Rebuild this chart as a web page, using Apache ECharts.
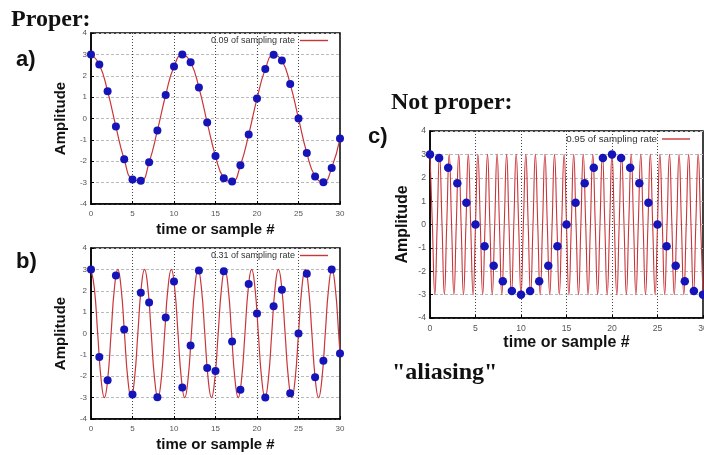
<!DOCTYPE html>
<html>
<head>
<meta charset="utf-8">
<script src="https://cdn.jsdelivr.net/npm/echarts@6/dist/echarts.min.js"></script>
<style>html,body{margin:0;padding:0;background:#fff}#chart{width:704px;height:455px}</style>
</head>
<body>
<div id="chart"></div>
<script>
// ---- data ----
const sampleN = [0,1,2,3,4,5,6,7,8,9,10,11,12,13,14,15,16,17,18,19,20,21,22,23,24,25,26,27,28,29,30];

// a) 0.09 of sampling rate: sampled points (also the curve, drawn smooth)
const samplesA = [3,2.53,1.28,-0.38,-1.91,-2.85,-2.91,-2.05,-0.56,1.10,2.43,2.99,2.63,1.45,-0.19,-1.76,-2.79,-2.95,-2.19,-0.75,0.93,2.31,2.98,2.71,1.61,0,-1.61,-2.71,-2.98,-2.31,-0.93];

// b) 0.31 of sampling rate
const samplesB = [3,-1.10,-2.19,2.71,0.19,-2.85,1.91,1.45,-2.98,0.75,2.43,-2.53,-0.56,2.95,-1.61,-1.76,2.91,-0.38,-2.63,2.31,0.93,-2.99,1.28,2.05,-2.79,0,2.79,-2.05,-1.28,2.99,-0.93];
const curveBx = [0,0.403,0.806,1.210,1.613,2.016,2.419,2.823,3.226,3.629,4.032,4.435,4.839,5.242,5.645,6.048,6.452,6.855,7.258,7.661,8.065,8.468,8.871,9.274,9.677,10.081,10.484,10.887,11.290,11.694,12.097,12.500,12.903,13.306,13.710,14.113,14.516,14.919,15.323,15.726,16.129,16.532,16.935,17.339,17.742,18.145,18.548,18.952,19.355,19.758,20.161,20.565,20.968,21.371,21.774,22.177,22.581,22.984,23.387,23.790,24.194,24.597,25.000,25.403,25.806,26.210,26.613,27.016,27.419,27.823,28.226,28.629,29.032,29.435,29.839,30];
const curveBy = [
  3,2.12,0,-2.12,-3,-2.12,0,2.12,
  3,2.12,0,-2.12,-3,-2.12,0,2.12,
  3,2.12,0,-2.12,-3,-2.12,0,2.12,
  3,2.12,0,-2.12,-3,-2.12,0,2.12,
  3,2.12,0,-2.12,-3,-2.12,0,2.12,
  3,2.12,0,-2.12,-3,-2.12,0,2.12,
  3,2.12,0,-2.12,-3,-2.12,0,2.12,
  3,2.12,0,-2.12,-3,-2.12,0,2.12,
  3,2.12,0,-2.12,-3,-2.12,0,2.12,
  3,2.12,0,-0.93];

// c) 0.95 of sampling rate
const samplesC = [3,2.85,2.43,1.76,0.93,0,-0.93,-1.76,-2.43,-2.85,-3,-2.85,-2.43,-1.76,-0.93,0,0.93,1.76,2.43,2.85,3,2.85,2.43,1.76,0.93,0,-0.93,-1.76,-2.43,-2.85,-3];
const curveCx = [
  0,0.26,0.53,0.79,1.05,1.32,1.58,1.84,2.11,2.37,2.63,2.89,3.16,3.42,3.68,3.95,4.21,4.47,4.74,
  5,5.26,5.53,5.79,6.05,6.32,6.58,6.84,7.11,7.37,7.63,7.89,8.16,8.42,8.68,8.95,9.21,9.47,9.74,
  10,10.26,10.53,10.79,11.05,11.32,11.58,11.84,12.11,12.37,12.63,12.89,13.16,13.42,13.68,13.95,14.21,14.47,14.74,
  15,15.26,15.53,15.79,16.05,16.32,16.58,16.84,17.11,17.37,17.63,17.89,18.16,18.42,18.68,18.95,19.21,19.47,19.74,
  20,20.26,20.53,20.79,21.05,21.32,21.58,21.84,22.11,22.37,22.63,22.89,23.16,23.42,23.68,23.95,24.21,24.47,24.74,
  25,25.26,25.53,25.79,26.05,26.32,26.58,26.84,27.11,27.37,27.63,27.89,28.16,28.42,28.68,28.95,29.21,29.47,29.74,
  30];
const curveCy = [
  3,0,-3,0, 3,0,-3,0, 3,0,-3,0, 3,0,-3,0, 3,0,-3,0, 3,0,-3,0, 3,0,-3,0,
  3,0,-3,0, 3,0,-3,0, 3,0,-3,0, 3,0,-3,0, 3,0,-3,0, 3,0,-3,0, 3,0,-3,0,
  3,0,-3,0, 3,0,-3,0, 3,0,-3,0, 3,0,-3,0, 3,0,-3,0, 3,0,-3,0, 3,0,-3,0,
  3,0,-3,0, 3,0,-3,0, 3,0,-3,0, 3,0,-3,0, 3,0,-3,0, 3,0,-3,0, 3,0,-3,0,
  3,0,-3];

const seriesNames = ['0.09 of sampling rate','0.31 of sampling rate','0.95 of sampling rate'];
const xTicks = {min:0, max:30, interval:5};
const yTicks = {min:-4, max:4, interval:1};
const xName = 'time or sample #';
const yName = 'Amplitude';

// ---- build ----
const RED = '#c8363a';
const BLUE = '#1414b8';
const pairs = (xs, ys) => xs.map((x, i) => [x, ys[i]]);

const grids = [
  {left: 91, top: 33, width: 249, height: 171},
  {left: 91, top: 248, width: 249, height: 171},
  {left: 430, top: 131, width: 273, height: 187}
];
const scale = [1, 1, 1.08];
const xGaps = [18, 18, 17];
const yGaps = [23, 23, 19];
const legendInset = [12, 12, 13];

const option = {
  backgroundColor: '#fff',
  animation: false,
  grid: grids.map(g => Object.assign({show: true, borderColor: '#000', borderWidth: 1.5, containLabel: false, outerBoundsMode: 'none'}, g)),
  xAxis: grids.map((g, i) => ({
    gridIndex: i, type: 'value', min: xTicks.min, max: xTicks.max, interval: xTicks.interval,
    name: xName, nameLocation: 'middle', nameGap: xGaps[i],
    nameTextStyle: {fontFamily: 'Liberation Sans, Arial, sans-serif', fontWeight: 'bold', fontSize: Math.round(15 * scale[i]), color: '#111'},
    axisLine: {show: true, onZero: false, lineStyle: {color: '#000', width: 1.5}},
    axisTick: {show: true, inside: true, length: 3, lineStyle: {color: '#000'}},
    axisLabel: {fontSize: 8 * scale[i], color: '#555', margin: 6, fontFamily: 'Liberation Sans, Arial, sans-serif', hideOverlap: false},
    splitLine: {show: true, lineStyle: {type: [1, 2], color: '#444', width: 1}}
  })),
  yAxis: grids.map((g, i) => ({
    gridIndex: i, type: 'value', min: yTicks.min, max: yTicks.max, interval: yTicks.interval,
    name: yName, nameLocation: 'middle', nameGap: yGaps[i], nameRotate: 90,
    nameTextStyle: {fontFamily: 'Liberation Sans, Arial, sans-serif', fontWeight: 'bold', fontSize: Math.round(15 * scale[i]), color: '#111'},
    axisLine: {show: true, onZero: false, lineStyle: {color: '#000', width: 1.5}},
    axisTick: {show: true, inside: true, length: 3, lineStyle: {color: '#000'}},
    axisLabel: {fontSize: 8 * scale[i], color: '#555', margin: 4, fontFamily: 'Liberation Sans, Arial, sans-serif'},
    splitLine: {show: true, lineStyle: {type: [3, 2], color: '#bbb', width: 1}}
  })),
  legend: grids.map((g, i) => ({
    data: [{name: seriesNames[i], icon: 'rect'}],
    right: 704 - (g.left + g.width) + legendInset[i],
    top: g.top + 3,
    align: 'right',
    itemWidth: 28, itemHeight: 1.4,
    padding: 0,
    textStyle: {fontSize: 9 * scale[i], color: '#333', fontFamily: 'Liberation Sans, Arial, sans-serif'}
  })),
  series: [
    {name: seriesNames[0], type: 'line', xAxisIndex: 0, yAxisIndex: 0, smooth: true, symbol: 'none',
     lineStyle: {color: RED, width: 1.2}, itemStyle: {color: RED}, data: pairs(sampleN, samplesA), z: 2},
    {name: 'samples a', type: 'scatter', xAxisIndex: 0, yAxisIndex: 0, symbolSize: 8,
     itemStyle: {color: BLUE, opacity: 1}, data: pairs(sampleN, samplesA), z: 3},
    {name: seriesNames[1], type: 'line', xAxisIndex: 1, yAxisIndex: 1, smooth: true, symbol: 'none',
     lineStyle: {color: RED, width: 1.2}, itemStyle: {color: RED}, data: pairs(curveBx, curveBy), z: 2},
    {name: 'samples b', type: 'scatter', xAxisIndex: 1, yAxisIndex: 1, symbolSize: 8,
     itemStyle: {color: BLUE, opacity: 1}, data: pairs(sampleN, samplesB), z: 3},
    {name: seriesNames[2], type: 'line', xAxisIndex: 2, yAxisIndex: 2, smooth: true, symbol: 'none',
     lineStyle: {color: RED, width: 1.1}, itemStyle: {color: RED}, data: pairs(curveCx, curveCy), z: 2},
    {name: 'samples c', type: 'scatter', xAxisIndex: 2, yAxisIndex: 2, symbolSize: 8.5,
     itemStyle: {color: BLUE, opacity: 1}, data: pairs(sampleN, samplesC), z: 3}
  ],
  graphic: [
    {type: 'text', left: 11, top: 8, style: {text: 'Proper:', font: 'bold 24px "Liberation Serif", "Times New Roman", serif', fill: '#111'}},
    {type: 'text', left: 16, top: 49, style: {text: 'a)', font: 'bold 22px "Liberation Sans", Arial, sans-serif', fill: '#111'}},
    {type: 'text', left: 16, top: 251, style: {text: 'b)', font: 'bold 22px "Liberation Sans", Arial, sans-serif', fill: '#111'}},
    {type: 'text', left: 391, top: 91, style: {text: 'Not proper:', font: 'bold 24px "Liberation Serif", "Times New Roman", serif', fill: '#111'}},
    {type: 'text', left: 368, top: 126, style: {text: 'c)', font: 'bold 22px "Liberation Sans", Arial, sans-serif', fill: '#111'}},
    {type: 'text', left: 392, top: 361, style: {text: '"aliasing"', font: 'bold 24px "Liberation Serif", "Times New Roman", serif', fill: '#111'}}
  ]
};

const chart = echarts.init(document.getElementById('chart'), null, {renderer: 'canvas'});
chart.setOption(option);
</script>
</body>
</html>
